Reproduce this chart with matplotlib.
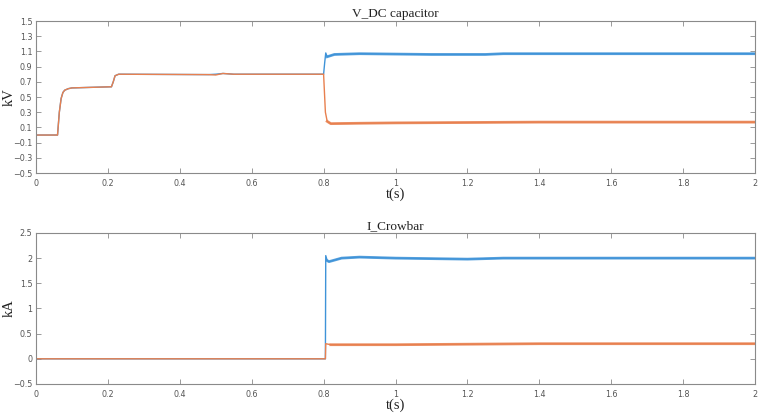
import matplotlib
matplotlib.use("Agg")
import matplotlib.pyplot as plt
import numpy as np

# ---- Data ----
# Top panel: V_DC capacitor (kV)
t_v_blue = [0, 0.06, 0.065, 0.07, 0.075, 0.08, 0.09, 0.10, 0.21, 0.215, 0.22, 0.23, 0.48, 0.50, 0.52, 0.55, 0.80,
            0.803, 0.806, 0.81, 0.83, 0.90, 1.00, 1.10, 1.25, 1.30, 1.50, 2.00]
v_blue = [0, 0, 0.30, 0.48, 0.56, 0.59, 0.61, 0.62, 0.635, 0.70, 0.78, 0.80, 0.795, 0.80, 0.81, 0.80, 0.80,
          0.95, 1.08, 1.03, 1.06, 1.07, 1.065, 1.06, 1.06, 1.07, 1.07, 1.07]
t_v_orange = [0, 0.06, 0.065, 0.07, 0.075, 0.08, 0.09, 0.10, 0.21, 0.215, 0.22, 0.23, 0.48, 0.50, 0.52, 0.55, 0.80,
              0.802, 0.805, 0.81, 0.82, 0.90, 1.00, 1.20, 1.40, 2.00]
v_orange = [0, 0, 0.30, 0.48, 0.56, 0.59, 0.61, 0.62, 0.635, 0.70, 0.78, 0.80, 0.795, 0.79, 0.81, 0.80, 0.80,
            0.60, 0.30, 0.18, 0.15, 0.155, 0.16, 0.165, 0.17, 0.17]

# Bottom panel: I_Crowbar (kA)
t_i_blue = [0, 0.805, 0.806, 0.81, 0.815, 0.85, 0.90, 1.00, 1.20, 1.30, 1.50, 2.00]
i_blue = [0, 0, 2.05, 1.95, 1.93, 2.00, 2.02, 2.00, 1.98, 2.00, 2.00, 2.00]
t_i_orange = [0, 0.805, 0.806, 0.82, 0.90, 1.00, 1.20, 1.40, 2.00]
i_orange = [0, 0, 0.30, 0.28, 0.28, 0.28, 0.29, 0.30, 0.30]

v_ticks = [-0.5, -0.3, -0.1, 0.1, 0.3, 0.5, 0.7, 0.9, 1.1, 1.3, 1.5]
i_ticks = [-0.5, 0, 0.5, 1, 1.5, 2, 2.5]
t_ticks = [0, 0.2, 0.4, 0.6, 0.8, 1, 1.2, 1.4, 1.6, 1.8, 2]
fault_t = 0.81

BLUE = "#3f93d8"
ORANGE = "#e8804f"
SPINE = "#8a8a8a"
TICKC = "#555555"

fig = plt.figure(figsize=(7.65, 4.16), dpi=100)
ax1 = fig.add_axes([0.047, 0.584, 0.940, 0.3655])
ax2 = fig.add_axes([0.047, 0.077, 0.940, 0.363])

serif = ["Liberation Serif", "DejaVu Serif"]

def style(ax, yticks, ylim, title, ylabel):
    ax.set_xlim(0, 2)
    ax.set_ylim(*ylim)
    ax.set_xticks(t_ticks)
    ax.set_xticklabels([("%g" % t) for t in t_ticks])
    ax.set_yticks(yticks)
    ax.set_yticklabels([("%g" % y).replace("-", "\u2212") for y in yticks])
    ax.tick_params(direction="in", length=3.5, width=0.6, colors=SPINE,
                   labelcolor=TICKC, labelsize=5.8, top=True, right=True)
    ax.tick_params(axis="y", pad=2.5)
    ax.tick_params(axis="x", pad=4)
    for s in ax.spines.values():
        s.set_color(SPINE)
        s.set_linewidth(0.8)
    ax.set_title(title, fontsize=9.5, family=serif, color="#222222", pad=3)
    ax.set_xlabel("t(s)", fontsize=10.5, family=serif, color="#222222", labelpad=0)
    ax.set_ylabel(ylabel, fontsize=10.5, family=serif, color="#222222")
    ax.yaxis.set_label_coords(-0.0285, 0.5)

def trace(ax, t, y, color):
    t = np.asarray(t); y = np.asarray(y)
    ax.plot(t, y, color=color, lw=1.0)
    m = t >= fault_t
    ax.plot(t[m], y[m], color=color, lw=2.0, alpha=0.85)

trace(ax1, t_v_blue, v_blue, BLUE)
trace(ax1, t_v_orange, v_orange, ORANGE)
style(ax1, v_ticks, (-0.5, 1.5), "V_DC capacitor", "kV")

trace(ax2, t_i_blue, i_blue, BLUE)
trace(ax2, t_i_orange, i_orange, ORANGE)
style(ax2, i_ticks, (-0.5, 2.5), "I_Crowbar", "kA")

fig.savefig("out.png", dpi=100)
